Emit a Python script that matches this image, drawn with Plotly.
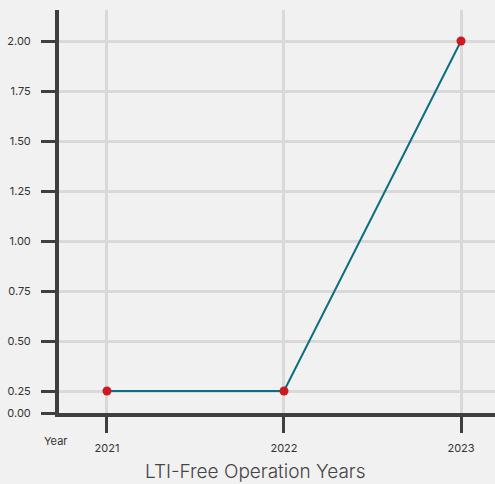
import plotly.graph_objects as go

# LTI-free operation years by calendar year
years = [2021, 2022, 2023]
lti_free_years = [0.25, 0.25, 2.00]

# y-axis ticks; the lowest tick marks the axis baseline
y_tick_vals = [0.14, 0.25, 0.50, 0.75, 1.00, 1.25, 1.50, 1.75, 2.00]
y_tick_text = ["0.00", "0.25", "0.50", "0.75", "1.00", "1.25", "1.50", "1.75", "2.00"]

AXIS = "#3f3f3f"
GRID = "#d9d9d9"
BG = "#f1f1f1"
TEXT = "#333333"

W, H = 495, 484
L, R, T, B = 59, 0, 10, 71
PW, PH = W - L - R, H - T - B

fig = go.Figure()
fig.add_trace(go.Scatter(
    x=years,
    y=lti_free_years,
    mode="lines+markers",
    line=dict(color="#0b6f80", width=2),
    marker=dict(color="#cc1a22", size=9),
    hoverinfo="x+y",
    showlegend=False,
))

fig.update_layout(
    width=W,
    height=H,
    margin=dict(l=L, r=R, t=T, b=B),
    paper_bgcolor=BG,
    plot_bgcolor=BG,
    font=dict(family="Inter, sans-serif", size=11, color=TEXT),
    xaxis=dict(
        range=[2020.729, 2023.192],
        tickvals=years,
        ticktext=[str(y) for y in years],
        showgrid=True,
        gridcolor=GRID,
        gridwidth=3,
        zeroline=False,
        showline=True,
        linecolor=AXIS,
        linewidth=4,
        ticks="outside",
        ticklen=16,
        tickwidth=3,
        tickcolor=AXIS,
        ticklabelstandoff=6,
        tickfont=dict(size=11, color=TEXT),
    ),
    yaxis=dict(
        range=[0.14, 2.155],
        tickvals=y_tick_vals,
        ticktext=y_tick_text,
        showgrid=True,
        gridcolor=GRID,
        gridwidth=3,
        zeroline=False,
        showline=True,
        linecolor=AXIS,
        linewidth=4,
        ticks="outside",
        ticklen=14,
        tickwidth=3,
        tickcolor=AXIS,
        ticklabelstandoff=8,
        tickfont=dict(size=11, color=TEXT),
    ),
)

# "Year" caption beside the x tick labels
fig.add_annotation(
    text="Year",
    x=(55 - L) / PW, y=(H - B - 441) / PH,
    xref="paper", yref="paper",
    xanchor="center", yanchor="middle",
    showarrow=False,
    font=dict(size=11, color=TEXT),
)

# chart caption along the bottom
fig.add_annotation(
    text="LTI-Free Operation Years",
    x=(255 - L) / PW, y=(H - B - 471) / PH,
    xref="paper", yref="paper",
    xanchor="center", yanchor="middle",
    showarrow=False,
    font=dict(size=19, color="#444444", family="Inter, sans-serif", weight=300),
)

fig.write_html("out.html")
